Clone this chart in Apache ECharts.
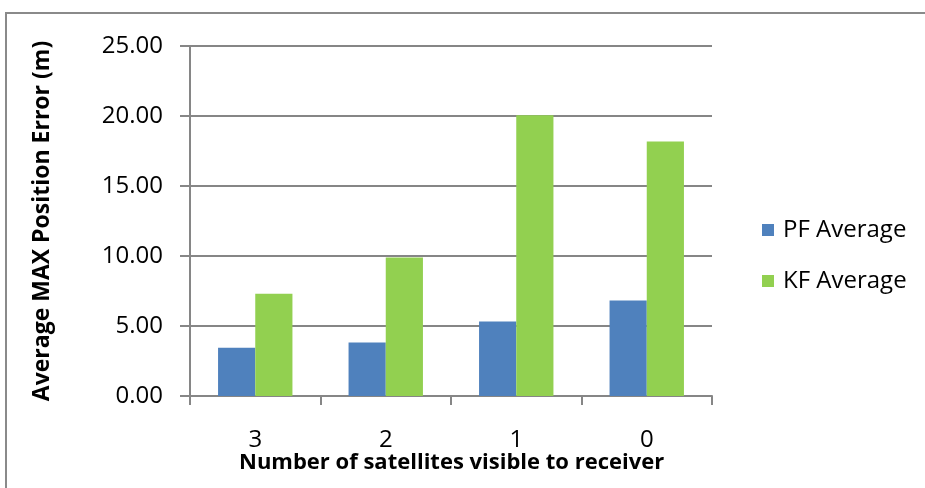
<!DOCTYPE html>
<html>
<head>
<meta charset="utf-8">
<script src="https://cdn.jsdelivr.net/npm/echarts@6/dist/echarts.min.js"></script>
<style>
html,body{margin:0;padding:0;background:#fff;}
#chart{width:925px;height:488px;}
</style>
</head>
<body>
<div id="chart"></div>
<script>
const categories = ['3', '2', '1', '0'];
const pfAverage = [3.44, 3.83, 5.33, 6.82];
const kfAverage = [7.30, 9.90, 20.05, 18.18];
const seriesNames = ['PF Average', 'KF Average'];
const xTitle = 'Number of satellites visible to receiver';
const yTitle = 'Average MAX Position Error (m)';

const chart = echarts.init(document.getElementById('chart'), null, {renderer: 'canvas'});
const font = '"Open Sans", "Liberation Sans", sans-serif';
const axisGray = '#868686';
chart.setOption({
  animation: false,
  backgroundColor: '#ffffff',
  graphic: [{
    type: 'rect',
    shape: {x: 6, y: 13, width: 940, height: 500},
    style: {fill: 'none', stroke: '#8a8a8a', lineWidth: 2},
    silent: true
  }, {
    type: 'text',
    left: 239, top: 452,
    style: {text: xTitle, font: 'bold 22px ' + font, fill: '#000'}
  }],
  legend: {
    orient: 'vertical',
    left: 757, top: 213,
    itemWidth: 12, itemHeight: 12,
    itemGap: 27,
    icon: 'rect',
    textStyle: {fontFamily: font, fontSize: 24, color: '#000', lineHeight: 24, padding: [0, 0, 0, 4]},
    data: seriesNames
  },
  grid: {left: 190, top: 46, right: 213, bottom: 92, containLabel: false},
  xAxis: {
    type: 'category',
    data: categories,
    axisLine: {lineStyle: {color: axisGray, width: 2}},
    axisTick: {show: true, length: 9, lineStyle: {color: axisGray, width: 2}},
    axisLabel: {fontFamily: font, fontSize: 24, color: '#000', margin: 32}
  },
  yAxis: {
    type: 'value',
    min: 0, max: 25, interval: 5,
    name: yTitle,
    nameLocation: 'middle',
    nameGap: 136,
    nameRotate: 90,
    nameTextStyle: {fontFamily: font, fontSize: 23, fontWeight: 'bold', color: '#000'},
    axisLine: {show: true, lineStyle: {color: axisGray, width: 2}},
    axisTick: {show: true, length: 10, lineStyle: {color: axisGray, width: 2}},
    axisLabel: {fontFamily: font, fontSize: 24, color: '#000', margin: 27, formatter: v => v.toFixed(2)},
    splitLine: {show: true, lineStyle: {color: axisGray, width: 2}}
  },
  series: [{
    name: seriesNames[0], type: 'bar', data: pfAverage,
    itemStyle: {color: '#4F81BD'},
    barGap: '0%', barCategoryGap: '43%'
  }, {
    name: seriesNames[1], type: 'bar', data: kfAverage,
    itemStyle: {color: '#92D050'},
    barGap: '0%', barCategoryGap: '43%'
  }]
});
</script>
</body>
</html>
